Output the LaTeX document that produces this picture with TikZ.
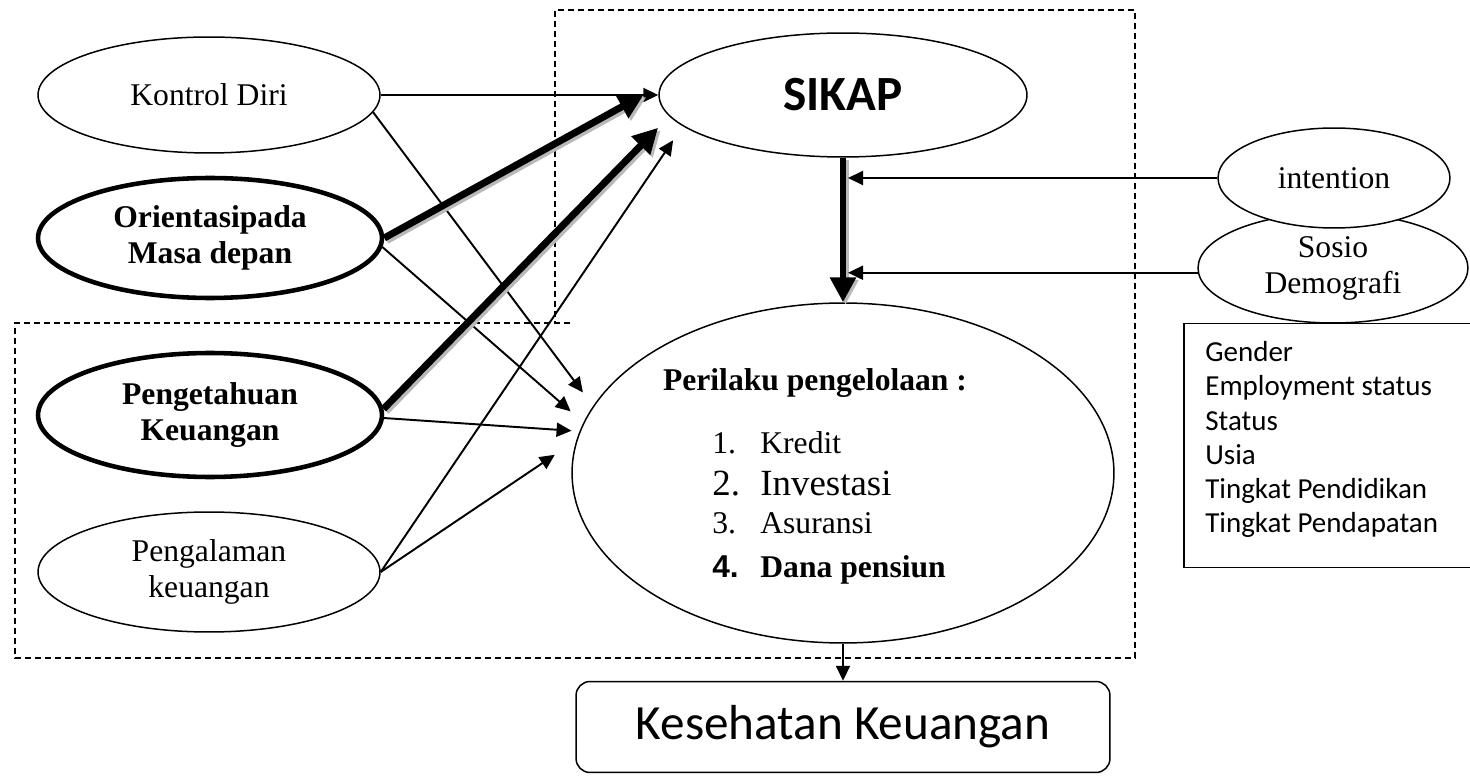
\documentclass[tikz,border=0pt]{standalone}
\usepackage{fontspec}
\setmainfont{Liberation Serif}
\newfontfamily\calibrifont{Carlito}
\newfontfamily\arialfont{Liberation Sans}
\usetikzlibrary{arrows.meta,shapes.geometric,positioning,calc}

\begin{document}
\begin{tikzpicture}[
    x=0.02cm, y=-0.02cm,
    font=\fontsize{18}{20.5}\selectfont,
    oval/.style={draw, ellipse, line width=0.85pt, inner sep=0pt, align=center},
    boldoval/.style={oval, line width=2.6pt, font=\fontsize{18}{20.5}\selectfont\bfseries},
    arrow/.style={-{Triangle[length=0.3cm,width=0.28cm]}, line width=1.1pt},
    bigarrow/.style={-{Triangle[length=0.5cm,width=0.5cm]}, line width=0.14cm},
    shadowed/.style={gray!55, transform canvas={shift={(0.05cm,-0.05cm)}}},
    frame/.style={dash pattern=on 0.12cm off 0.08cm, line width=0.75pt}
  ]
    \useasboundingbox (0,0) rectangle (1470,776);

    % dashed frames
    \draw[frame] (570,323) -- (15,323) -- (15,658) -- (1135,658) -- (1135,10)
      -- (555,10) -- (555,323);

    % left ovals
    \node[oval, minimum width=6.84cm, minimum height=2.32cm] (kontrol) at (209,95) {Kontrol Diri};
    \node[boldoval, minimum width=6.88cm, minimum height=2.4cm] (orient) at (210,238) {Orientasipada\\Masa depan};
    \node[boldoval, minimum width=6.88cm, minimum height=2.48cm] (tahu) at (210,415) {Pengetahuan\\Keuangan};
    \node[oval, minimum width=6.84cm, minimum height=2.4cm] (alami) at (209,572) {Pengalaman\\keuangan};

    % centre
    \node[oval, minimum width=7.36cm, minimum height=2.48cm,
      font=\calibrifont\bfseries\fontsize{28}{32}\selectfont] (sikap) at (843,95) {SIKAP};
    \node[oval, minimum width=10.84cm, minimum height=6.8cm] (perilaku) at (843,473) {};
    \node[anchor=base, font=\fontsize{18}{20.5}\selectfont\bfseries] (judul) at (815,391) {Perilaku pengelolaan :};
    \node[anchor=base west, inner sep=0pt] (no1) at (712,454) {1.};
    \node[anchor=base west, inner sep=0pt] (kredit) at (760,454) {Kredit};
    \node[anchor=base west, inner sep=0pt, font=\fontsize{21}{24}\selectfont] (no2) at (712,496) {2.};
    \node[anchor=base west, inner sep=0pt, font=\fontsize{21}{24}\selectfont] (invest) at (760,496) {Investasi};
    \node[anchor=base west, inner sep=0pt] (no3) at (712,533) {3.};
    \node[anchor=base west, inner sep=0pt] (asuransi) at (760,533) {Asuransi};
    \node[anchor=base west, inner sep=0pt, font=\arialfont\bfseries\fontsize{18}{20.5}\selectfont] (no4) at (712,577) {4.};
    \node[anchor=base west, inner sep=0pt, font=\fontsize{18}{20.5}\selectfont\bfseries] (pensiun) at (760,577) {Dana pensiun};

    % right side
    \node[oval, minimum width=5.4cm, minimum height=2.2cm] (sosio) at (1333,268) {Sosio\\Demografi};
    \node[oval, fill=white, minimum width=4.64cm, minimum height=2.0cm] (niat) at (1334,178) {intention};
    \node[draw, line width=0.85pt, anchor=north west, minimum width=6.0cm,
      minimum height=4.88cm] (demo) at (1183,323) {};
    \node[anchor=north west, align=left, inner sep=0pt,
      font=\calibrifont\fontsize{16.5}{19.5}\selectfont] (demolist) at (1205,341)
      {Gender\\Employment status\\Status\\Usia\\Tingkat Pendidikan\\Tingkat Pendapatan};

    \node[draw, rounded corners=0.28cm, line width=0.85pt, minimum width=10.68cm,
      minimum height=1.82cm, font=\calibrifont\fontsize{28}{32}\selectfont] (sehat) at (843,727)
      {Kesehatan Keuangan};

    % thin arrows
    \draw[arrow] (kontrol.east) -- (sikap.west);
    \draw[arrow, shorten >=0.34cm] (kontrol.354) -- (perilaku.165);
    \draw[arrow, shorten >=0.34cm] (orient.357) -- (perilaku.169.75);
    \draw[arrow, shorten >=0.16cm] (tahu.359) -- (perilaku.171.4);
    \draw[arrow, shorten >=0.52cm] (alami.east) -- (perilaku.173);
    \draw[arrow, shorten >=0.34cm] (alami.east) -- (sikap.191.5);

    % thick arrows with shadow
    \draw[bigarrow, shadowed, shorten >=0.38cm] (orient.east) -- (sikap.177);
    \draw[bigarrow, shorten >=0.38cm] (orient.east) -- (sikap.177);
    \draw[bigarrow, shadowed, shorten >=0.32cm] (tahu.2) -- (sikap.187);
    \draw[bigarrow, shorten >=0.32cm] (tahu.2) -- (sikap.187);
    \draw[bigarrow, shadowed, line width=0.12cm] (sikap.south) -- (perilaku.north);
    \draw[bigarrow, line width=0.12cm] (sikap.south) -- (perilaku.north);

    \draw[arrow] (niat.west) -- ($(sikap.south |- niat.west)+(5,0)$);
    \draw[arrow] (sosio.182) -- ($(sikap.south |- sosio.182)+(5,0)$);
    \draw[arrow] (perilaku.south) -- (sehat.north);
  \end{tikzpicture}
\end{document}
